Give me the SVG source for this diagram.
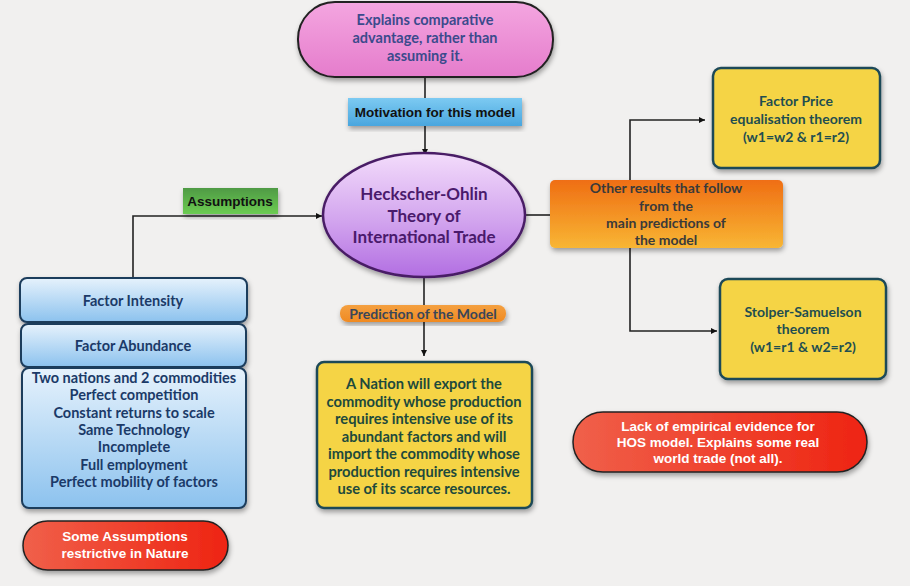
<svg xmlns="http://www.w3.org/2000/svg" width="910" height="586" viewBox="0 0 910 586">
<defs>
<linearGradient id="gPink" x1="0" y1="0" x2="0" y2="1"><stop offset="0" stop-color="#f4a6e0"/><stop offset="1" stop-color="#e57ccc"/></linearGradient>
<linearGradient id="gBlueLbl" x1="0" y1="0" x2="0" y2="1"><stop offset="0" stop-color="#7ccaf2"/><stop offset="1" stop-color="#4aa6de"/></linearGradient>
<linearGradient id="gGreen" x1="0" y1="0" x2="0" y2="1"><stop offset="0" stop-color="#4f9a44"/><stop offset="1" stop-color="#6ccc52"/></linearGradient>
<linearGradient id="gPurple" x1="0" y1="0" x2="0" y2="1"><stop offset="0" stop-color="#f3dcfb"/><stop offset="0.55" stop-color="#d2a4ee"/><stop offset="1" stop-color="#b26ee2"/></linearGradient>
<linearGradient id="gOrange" x1="0" y1="0" x2="0" y2="1"><stop offset="0" stop-color="#ef6e14"/><stop offset="1" stop-color="#f8b634"/></linearGradient>
<linearGradient id="gOrangeLbl" x1="0" y1="0" x2="0" y2="1"><stop offset="0" stop-color="#f4a040"/><stop offset="1" stop-color="#f08a22"/></linearGradient>
<linearGradient id="gBlue" x1="0" y1="0" x2="0" y2="1"><stop offset="0" stop-color="#e6f2fc"/><stop offset="1" stop-color="#8cc2ee"/></linearGradient>
<linearGradient id="gRed" x1="0" y1="0" x2="1" y2="0"><stop offset="0" stop-color="#f0604a"/><stop offset="1" stop-color="#ee2412"/></linearGradient>
<filter id="sh" x="-10%" y="-10%" width="125%" height="130%"><feDropShadow dx="1" dy="3" stdDeviation="2.5" flood-color="#000" flood-opacity="0.35"/></filter>
<marker id="arr" viewBox="0 0 10 10" refX="10" refY="5" markerWidth="7" markerHeight="6" markerUnits="userSpaceOnUse" orient="auto"><path d="M0,0 L10,5 L0,10 z" fill="#111"/></marker>
<style>
.ln{fill:none;stroke:#222;stroke-width:1.6}
.hum{font-family:Lato,"Open Sans",sans-serif;font-weight:bold;text-anchor:middle}
.ar{font-family:"Liberation Sans",Arial,sans-serif;font-weight:bold;text-anchor:middle}
.yel{fill:#f5d444;stroke:#1e4a58;stroke-width:2.5}
.blu{fill:url(#gBlue);stroke:#1c3c5c;stroke-width:2}
</style>
</defs>
<rect width="910" height="586" fill="#f1f0ef"/>

<g id="connectors">
<line class="ln" x1="425" y1="77" x2="425" y2="155" marker-end="url(#arr)"/>
<polyline class="ln" points="133,278 133,216 322,216" marker-end="url(#arr)"/>
<line class="ln" x1="525" y1="215" x2="551" y2="215"/>
<polyline class="ln" points="630,180 630,120 705,120" marker-end="url(#arr)"/>
<polyline class="ln" points="630,248 630,331 717,331" marker-end="url(#arr)"/>
<line class="ln" x1="424" y1="277" x2="424" y2="356" marker-end="url(#arr)"/>
</g>

<g id="motivation-source">
<rect x="298" y="2" width="255" height="75" rx="37" fill="url(#gPink)" stroke="#222" stroke-width="2" filter="url(#sh)"/>
<text class="hum" font-size="14.5" fill="#3b4a8c"><tspan x="425" y="25">Explains comparative</tspan><tspan x="425" y="43">advantage, rather than</tspan><tspan x="425" y="61">assuming it.</tspan></text>
</g>

<g id="label-motivation">
<rect x="348" y="98" width="174" height="28" fill="url(#gBlueLbl)" filter="url(#sh)"/>
<text class="ar" x="435" y="117" font-size="13.5" fill="#111">Motivation for this model</text>
</g>

<g id="label-assumptions">
<rect x="183" y="188" width="95" height="26" fill="url(#gGreen)" filter="url(#sh)"/>
<text class="ar" x="230" y="206" font-size="13.5" fill="#111">Assumptions</text>
</g>

<g id="hecksher-ohlin">
<ellipse cx="424" cy="215" rx="101" ry="62" fill="url(#gPurple)" stroke="#4a1f66" stroke-width="2.5" filter="url(#sh)"/>
<text class="hum" font-size="17" fill="#4a1a6c"><tspan x="424" y="200">Heckscher-Ohlin</tspan><tspan x="424" y="222">Theory of</tspan><tspan x="424" y="243">International Trade</tspan></text>
</g>

<g id="other-results">
<rect x="550" y="180" width="233" height="68" rx="5" fill="url(#gOrange)" filter="url(#sh)"/>
<text class="hum" font-size="14" fill="#3a3a3a"><tspan x="666" y="193">Other results that follow</tspan><tspan x="666" y="211">from the</tspan><tspan x="666" y="228">main predictions of</tspan><tspan x="666" y="245">the model</tspan></text>
</g>

<g id="factor-price">
<rect class="yel" x="713" y="68" width="167" height="100" rx="8" filter="url(#sh)"/>
<text class="hum" font-size="14" fill="#1f4e50"><tspan x="796" y="106">Factor Price</tspan><tspan x="796" y="124">equalisation theorem</tspan><tspan x="796" y="142">(w1=w2 &amp; r1=r2)</tspan></text>
</g>

<g id="stolper-samuelson">
<rect class="yel" x="720" y="279" width="166" height="100" rx="8" filter="url(#sh)"/>
<text class="hum" font-size="14" fill="#1f4e50"><tspan x="803" y="317">Stolper-Samuelson</tspan><tspan x="803" y="334">theorem</tspan><tspan x="803" y="352">(w1=r1 &amp; w2=r2)</tspan></text>
</g>

<g id="lack-evidence">
<rect x="573" y="412" width="294" height="60" rx="30" fill="url(#gRed)" stroke="#222" stroke-width="1.5" filter="url(#sh)"/>
<text class="ar" font-size="13.5" fill="#fff"><tspan x="718" y="431">Lack of empirical evidence for</tspan><tspan x="718" y="447">HOS model. Explains some real</tspan><tspan x="718" y="463">world trade (not all).</tspan></text>
</g>

<g id="label-prediction">
<rect x="340" y="305" width="166" height="17" rx="8" fill="url(#gOrangeLbl)" filter="url(#sh)"/>
<text class="hum" x="423" y="318.5" font-size="14" fill="#3a4658">Prediction of the Model</text>
</g>

<g id="prediction">
<rect class="yel" x="317" y="362" width="215" height="146" rx="7" filter="url(#sh)"/>
<text class="hum" font-size="14.7" fill="#1e4a3c"><tspan x="424" y="389">A Nation will export the</tspan><tspan x="424" y="407">commodity whose production</tspan><tspan x="424" y="424">requires intensive use of its</tspan><tspan x="424" y="442">abundant factors and will</tspan><tspan x="424" y="459">import the commodity whose</tspan><tspan x="424" y="477">production requires intensive</tspan><tspan x="424" y="494">use of its scarce resources.</tspan></text>
</g>

<g id="factor-intensity">
<rect class="blu" x="20" y="278" width="227" height="44" rx="7" filter="url(#sh)"/>
<text class="hum" x="133" y="306" font-size="14.5" fill="#1b3a68">Factor Intensity</text>
</g>

<g id="factor-abundance">
<rect class="blu" x="21" y="324" width="225" height="43" rx="7" filter="url(#sh)"/>
<text class="hum" x="133" y="351" font-size="14.5" fill="#1b3a68">Factor Abundance</text>
</g>

<g id="assumption-list">
<rect class="blu" x="22" y="368" width="224" height="140" rx="7" filter="url(#sh)"/>
<text class="hum" font-size="14.5" fill="#1b3a68"><tspan x="134" y="383">Two nations and 2 commodities</tspan><tspan x="134" y="400">Perfect competition</tspan><tspan x="134" y="418">Constant returns to scale</tspan><tspan x="134" y="435">Same Technology</tspan><tspan x="134" y="452">Incomplete</tspan><tspan x="134" y="470">Full employment</tspan><tspan x="134" y="487">Perfect mobility of factors</tspan></text>
</g>

<g id="restrictive">
<rect x="23" y="521" width="205" height="49" rx="24.5" fill="url(#gRed)" stroke="#222" stroke-width="1.5" filter="url(#sh)"/>
<text class="ar" font-size="13.5" fill="#fff"><tspan x="125" y="541">Some Assumptions</tspan><tspan x="125" y="558">restrictive in Nature</tspan></text>
</g>
</svg>
